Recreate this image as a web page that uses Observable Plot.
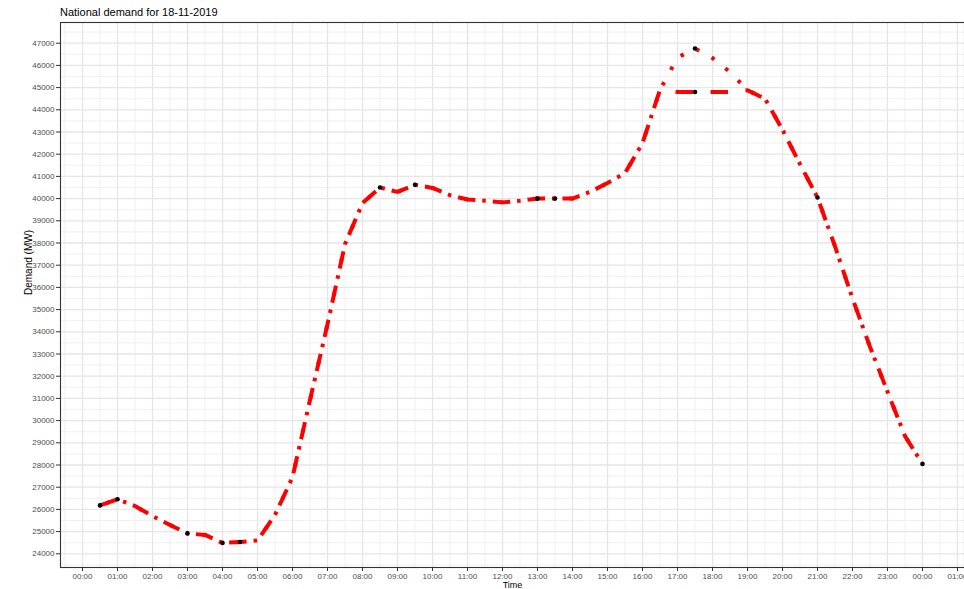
<!DOCTYPE html>
<html>
<head>
<meta charset="utf-8">
<script src="https://cdn.jsdelivr.net/npm/d3@7"></script>
<script src="https://cdn.jsdelivr.net/npm/@observablehq/plot@0.6"></script>
<style>
  body { margin: 0; background: white; font-family: "Liberation Sans", Arial, sans-serif; }
  #title { position: relative; height: 21px; }
  #title span { position: absolute; left: 60px; top: 7px; font-size: 11px; line-height: 1; color: #000; }
</style>
</head>
<body>
<div id="title"><span>National demand for 18-11-2019</span></div>
<div id="chart"></div>
<script>
// Half-hourly settlement times (hours after midnight as "HH:MM", 24:00 = next midnight)
const times = ["00:30","01:00","01:30","02:00","02:30","03:00","03:30","04:00","04:30","05:00",
  "05:30","06:00","06:30","07:00","07:30","08:00","08:30","09:00","09:30","10:00",
  "10:30","11:00","11:30","12:00","12:30","13:00","13:30","14:00","14:30","15:00",
  "15:30","16:00","16:30","17:00","17:30","18:00","18:30","19:00","19:30","20:00",
  "20:30","21:00","21:30","22:00","22:30","23:00","23:30","24:00"];

// Demand (MW) - dotted series (uncapped)
const demandDotted = [26180,26460,26150,25700,25300,24920,24850,24490,24530,24600,
  25750,27450,30930,34340,37950,39800,40500,40300,40620,40480,
  40150,39960,39900,39830,39900,40000,40000,40000,40300,40700,
  41150,42500,44900,46350,46760,46330,45700,44880,44500,43100,
  41550,40050,37850,35500,33320,31300,29300,28050];

// Demand (MW) - dashed series (flat through the evening peak)
const demandDashed = [26180,26460,26150,25700,25300,24920,24850,24490,24530,24600,
  25750,27450,30930,34340,37950,39800,40500,40300,40620,40480,
  40150,39960,39900,39830,39900,40000,40000,40000,40300,40700,
  41150,42500,44900,44800,44800,44800,44800,44880,44500,43100,
  41550,40050,37850,35500,33320,31300,29300,28050];

// Highlighted points
const pointTimes = ["00:30","01:00","03:00","04:00","04:30","08:30","09:30","13:00","13:30","17:30","17:30","21:00","24:00"];
const pointValues = [26180,26460,24920,24490,24530,40500,40620,40000,40000,46760,44800,40050,28050];

// Axis tick labels
const xTickLabels = ["00:00","01:00","02:00","03:00","04:00","05:00","06:00","07:00","08:00","09:00",
  "10:00","11:00","12:00","13:00","14:00","15:00","16:00","17:00","18:00","19:00",
  "20:00","21:00","22:00","23:00","00:00","01:00"];
const yTicks = [24000,25000,26000,27000,28000,29000,30000,31000,32000,33000,34000,35000,
  36000,37000,38000,39000,40000,41000,42000,43000,44000,45000,46000,47000];

const toHours = s => { const [h, m] = s.split(":").map(Number); return h + m / 60; };

const dotted = times.map((t, i) => ({x: toHours(t), y: demandDotted[i]}));
const dashed = times.map((t, i) => ({x: toHours(t), y: demandDashed[i]}));
const points = pointTimes.map((t, i) => ({x: toHours(t), y: pointValues[i]}));

const xTicks = xTickLabels.map((_, i) => i);
const xMinor = xTicks.map(i => i - 0.5).concat([25.5]);
const yMinor = yTicks.map(v => v - 500).concat([47500]);

const chart = Plot.plot({
  width: 964,
  height: 568,
  marginLeft: 60,
  marginRight: 0,
  marginTop: 1,
  marginBottom: 22,
  style: {fontFamily: "'Liberation Sans', Arial, sans-serif", fontSize: "8px", color: "#4d4d4d", background: "white", overflow: "visible"},
  x: {domain: [-0.629, 25.2]},
  y: {domain: [23383, 47932]},
  marks: [
    Plot.gridX(xMinor, {stroke: "#ebebeb", strokeOpacity: 1, strokeWidth: 0.7}),
    Plot.gridY(yMinor, {stroke: "#ebebeb", strokeOpacity: 1, strokeWidth: 0.7}),
    Plot.gridX(xTicks, {stroke: "#e6e6e6", strokeOpacity: 1, strokeWidth: 1.3}),
    Plot.gridY(yTicks, {stroke: "#e6e6e6", strokeOpacity: 1, strokeWidth: 1.3}),
    Plot.lineY(dashed, {x: "x", y: "y", stroke: "#ff0000", strokeWidth: 4, strokeLinecap: "butt",
      strokeDasharray: "17.5,17.5", strokeDashoffset: 0}),
    Plot.lineY(dotted, {x: "x", y: "y", stroke: "#ff0000", strokeWidth: 4, strokeLinecap: "butt",
      strokeDasharray: "3.5,14", strokeDashoffset: 10.5}),
    Plot.dot(points, {x: "x", y: "y", r: 2.3, fill: "black", stroke: "none"}),
    Plot.frame({stroke: "#333333", strokeWidth: 1.1}),
    Plot.axisX({ticks: xTicks, tickFormat: i => xTickLabels[i], tickSize: 4, tickPadding: 2, label: null, stroke: "#333333"}),
    Plot.axisY({ticks: yTicks, tickFormat: d => String(d), tickSize: 4, tickPadding: 2, label: null, stroke: "#333333"}),
    Plot.text(["Demand (MW)"], {frameAnchor: "left", dx: -32, rotate: -90, text: d => d, fill: "black", fontSize: 10}),
    Plot.text(["Time"], {frameAnchor: "bottom", dy: 20, text: d => d, fill: "black", fontSize: 9})
  ]
});
document.getElementById("chart").appendChild(chart);
</script>
</body>
</html>
